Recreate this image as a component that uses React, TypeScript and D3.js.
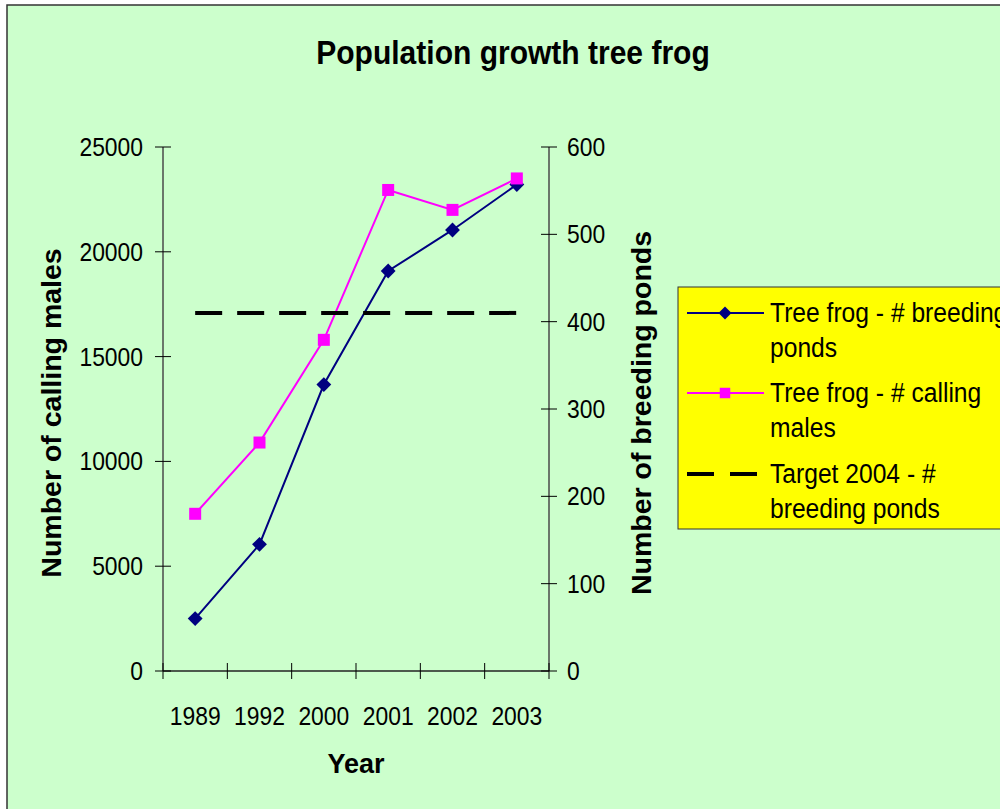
import React, { useEffect, useRef } from "react";
import { select, scaleBand, scaleLinear, line, symbol, symbolSquare } from "d3";

const years = ["1989", "1992", "2000", "2001", "2002", "2003"];
const breedingPonds = [60, 145, 328, 458, 505, 557];
const callingMales = [7500, 10900, 15800, 22950, 22000, 23500];
const targetPonds = 410;
const leftTicks = [0, 5000, 10000, 15000, 20000, 25000];
const rightTicks = [0, 100, 200, 300, 400, 500, 600];

const FONT = "'Liberation Sans', Arial, sans-serif";
const SX = 0.88;

function addText(g, x, y, str, opts = {}) {
  const rot = opts.rotate ? ` rotate(${opts.rotate})` : "";
  return g
    .append("text")
    .attr("transform", `translate(${x},${y})${rot} scale(${opts.sx ?? SX},1)`)
    .attr("font-family", FONT)
    .attr("font-size", opts.size ?? 26)
    .attr("font-weight", opts.bold ? "bold" : "normal")
    .attr("text-anchor", opts.anchor ?? "start")
    .attr("fill", "#000")
    .text(str);
}

const App = () => {
  const ref = useRef(null);

  useEffect(() => {
    const svg = select(ref.current);
    svg.selectAll("*").remove();

    const left = 163, right = 549, top = 147, bottom = 671;

    // chart frame
    svg
      .append("rect")
      .attr("x", 7)
      .attr("y", 5)
      .attr("width", 1100)
      .attr("height", 900)
      .attr("fill", "#CCFFCC")
      .attr("stroke", "#333")
      .attr("stroke-width", 1.5);

    addText(svg, 513, 64, "Population growth tree frog", { size: 33, bold: true, anchor: "middle", sx: 0.91 });

    const x = scaleBand().domain(years).range([left, right]);
    const yL = scaleLinear().domain([0, 25000]).range([bottom, top]);
    const yR = scaleLinear().domain([0, 600]).range([bottom, top]);

    const g = svg.append("g");

    // axes lines
    g.append("line").attr("x1", left).attr("x2", left).attr("y1", top).attr("y2", bottom)
      .attr("stroke", "#4a4a4a").attr("stroke-width", 1.5);
    g.append("line").attr("x1", right).attr("x2", right).attr("y1", top).attr("y2", bottom)
      .attr("stroke", "#4a4a4a").attr("stroke-width", 1.5);
    g.append("line").attr("x1", left).attr("x2", right).attr("y1", bottom).attr("y2", bottom)
      .attr("stroke", "#222").attr("stroke-width", 1.5);

    leftTicks.forEach((t) => {
      g.append("line").attr("x1", left - 8).attr("x2", left + 8).attr("y1", yL(t)).attr("y2", yL(t))
        .attr("stroke", "#000").attr("stroke-width", 1);
      addText(g, 143, yL(t) + 9, String(t), { anchor: "end" });
    });
    rightTicks.forEach((t) => {
      g.append("line").attr("x1", right - 8).attr("x2", right + 8).attr("y1", yR(t)).attr("y2", yR(t))
        .attr("stroke", "#000").attr("stroke-width", 1);
      addText(g, 567, yR(t) + 9, String(t));
    });
    const bounds = years.map((d) => x(d)).concat([right]);
    bounds.forEach((b) => {
      g.append("line").attr("x1", b).attr("x2", b).attr("y1", bottom - 8).attr("y2", bottom + 8)
        .attr("stroke", "#000").attr("stroke-width", 1);
    });
    years.forEach((d) => {
      addText(g, x(d) + x.bandwidth() / 2, 725, d, { anchor: "middle" });
    });

    addText(g, (left + right) / 2, 773, "Year", { bold: true, anchor: "middle", size: 27, sx: 1 });
    addText(g, 61, 413, "Number of calling males", { bold: true, anchor: "middle", rotate: -90, size: 28.5, sx: 1 });
    addText(g, 651, 413, "Number of breeding ponds", { bold: true, anchor: "middle", rotate: -90, size: 28.5, sx: 1 });

    const cx = (d) => x(d) + x.bandwidth() / 2;

    // breeding ponds (right axis)
    g.append("path")
      .datum(years)
      .attr("fill", "none")
      .attr("stroke", "#000080")
      .attr("stroke-width", 2)
      .attr("d", line().x((d) => cx(d)).y((d, i) => yR(breedingPonds[i])));
    g.selectAll(".dia")
      .data(years)
      .enter()
      .append("path")
      .attr("transform", (d, i) => `translate(${cx(d)},${yR(breedingPonds[i])}) rotate(45)`)
      .attr("d", symbol().type(symbolSquare).size(110))
      .attr("fill", "#000080");

    // calling males (left axis)
    g.append("path")
      .datum(years)
      .attr("fill", "none")
      .attr("stroke", "#FF00FF")
      .attr("stroke-width", 2)
      .attr("d", line().x((d) => cx(d)).y((d, i) => yL(callingMales[i])));
    g.selectAll(".sq")
      .data(years)
      .enter()
      .append("path")
      .attr("transform", (d, i) => `translate(${cx(d)},${yL(callingMales[i])})`)
      .attr("d", symbol().type(symbolSquare).size(144))
      .attr("fill", "#FF00FF");

    // target
    g.append("line")
      .attr("x1", cx(years[0]))
      .attr("x2", cx(years[years.length - 1]))
      .attr("y1", yR(targetPonds))
      .attr("y2", yR(targetPonds))
      .attr("stroke", "#000")
      .attr("stroke-width", 4)
      .attr("stroke-dasharray", "27 15");

    // legend
    const lg = svg.append("g");
    lg.append("rect")
      .attr("x", 678)
      .attr("y", 287)
      .attr("width", 400)
      .attr("height", 242)
      .attr("fill", "#FFFF00")
      .attr("stroke", "#333")
      .attr("stroke-width", 1);

    const items = [
      { lines: ["Tree frog - # breeding", "ponds"], color: "#000080", size: 85, rot: 45, dash: null, w: 2 },
      { lines: ["Tree frog - # calling", "males"], color: "#FF00FF", size: 110, rot: 0, dash: null, w: 2 },
      { lines: ["Target 2004 - #", "breeding ponds"], color: "#000", size: 0, rot: 0, dash: "27 16", w: 4 },
    ];
    const baselines = [322, 402, 483];
    items.forEach((it, i) => {
      const by = baselines[i];
      const sy = by - 9;
      lg.append("line")
        .attr("x1", 687)
        .attr("x2", 764)
        .attr("y1", sy)
        .attr("y2", sy)
        .attr("stroke", it.color)
        .attr("stroke-width", it.w)
        .attr("stroke-dasharray", it.dash);
      if (it.size) {
        lg.append("path")
          .attr("transform", `translate(725,${sy}) rotate(${it.rot})`)
          .attr("d", symbol().type(symbolSquare).size(it.size))
          .attr("fill", it.color);
      }
      it.lines.forEach((s, j) => addText(lg, 770, by + j * 35, s, { size: 28 }));
    });
  }, []);

  return (
    <svg
      ref={ref}
      width={1000}
      height={809}
      style={{ position: "absolute", left: 0, top: 0, display: "block" }}
    />
  );
};

export default App;
